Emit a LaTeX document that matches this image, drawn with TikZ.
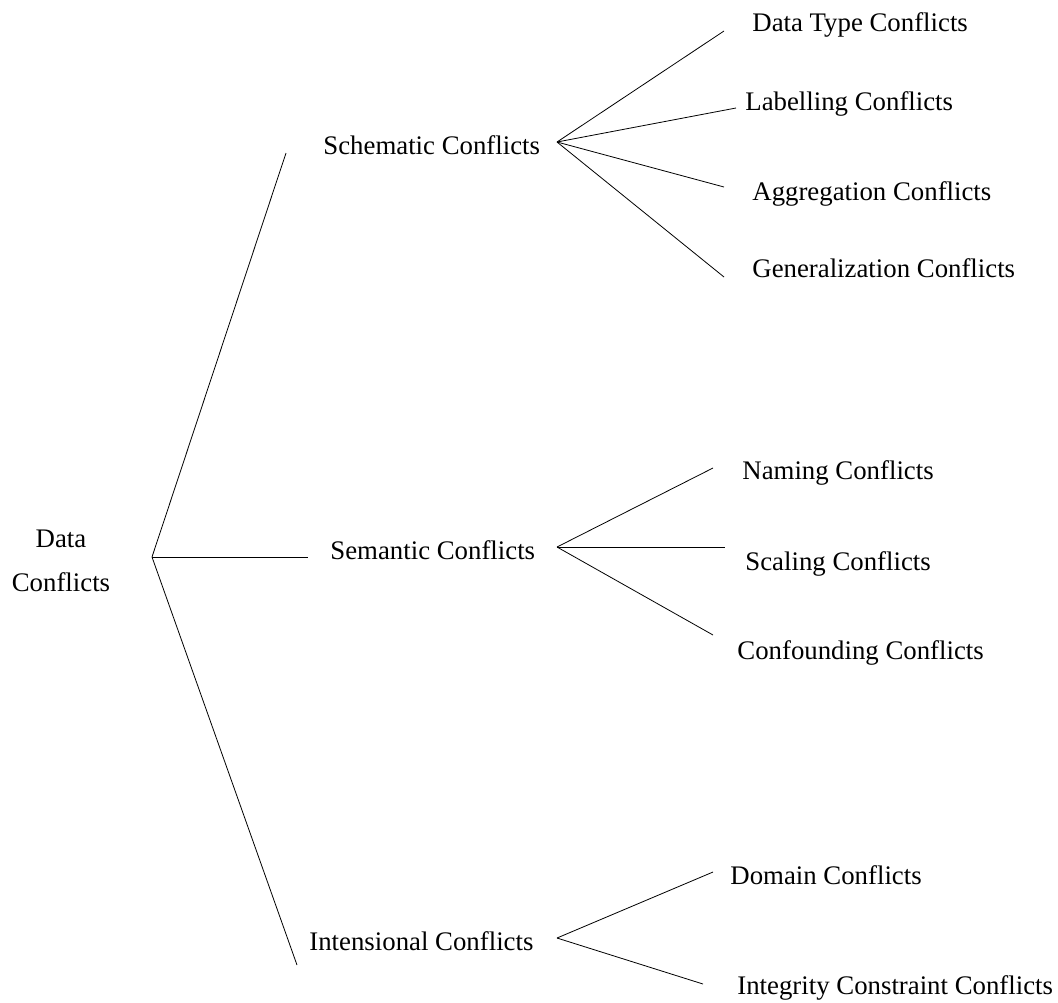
\documentclass[tikz,border=0pt]{standalone}
\usepackage{fontspec}
\setmainfont{Liberation Serif}
\begin{document}
\begin{tikzpicture}[x=0.5pt,y=-0.5pt,
  every node/.style={font=\fontsize{13.4}{22}\selectfont,inner sep=0pt},
  leaf/.style={anchor=base west}]
\useasboundingbox (0,0) rectangle (1058,1002);

\node[align=center,anchor=base] (data) at (61,591) {Data\\Conflicts};

\node[leaf] (schem) at (323,154) {Schematic Conflicts};
\node[leaf] (seman) at (330,559) {Semantic Conflicts};
\node[leaf] (inten) at (309,950) {Intensional Conflicts};

\node[leaf] (dtype) at (752,31) {Data Type Conflicts};
\node[leaf] (label) at (745,110) {Labelling Conflicts};
\node[leaf] (aggr) at (752,200) {Aggregation Conflicts};
\node[leaf] (gener) at (752,277) {Generalization Conflicts};

\node[leaf] (naming) at (742,479) {Naming Conflicts};
\node[leaf] (scal) at (745,570) {Scaling Conflicts};
\node[leaf] (confo) at (737,659) {Confounding Conflicts};

\node[leaf] (domain) at (730,884) {Domain Conflicts};
\node[leaf] (integ) at (737,994) {Integrity Constraint Conflicts};

\coordinate (dataJ) at (152,557);
\coordinate (schemL) at (286,153);
\coordinate (semanL) at (308,557);
\coordinate (intenL) at (297,965);

\coordinate (schemJ) at (557,142);
\coordinate (dtypeL) at (724,31);
\coordinate (labelL) at (736,108);
\coordinate (aggrL) at (724,187);
\coordinate (generL) at (724,277);

\coordinate (semanJ) at (557,547);
\coordinate (namingL) at (713,468);
\coordinate (scalL) at (725,547);
\coordinate (confoL) at (713,635);

\coordinate (intenJ) at (557,938);
\coordinate (domainL) at (713,872);
\coordinate (integL) at (703,984);

\draw (dataJ) -- (schemL);
\draw (dataJ) -- (semanL);
\draw (dataJ) -- (intenL);

\draw (schemJ) -- (dtypeL);
\draw (schemJ) -- (labelL);
\draw (schemJ) -- (aggrL);
\draw (schemJ) -- (generL);

\draw (semanJ) -- (namingL);
\draw (semanJ) -- (scalL);
\draw (semanJ) -- (confoL);

\draw (intenJ) -- (domainL);
\draw (intenJ) -- (integL);
\end{tikzpicture}
\end{document}
